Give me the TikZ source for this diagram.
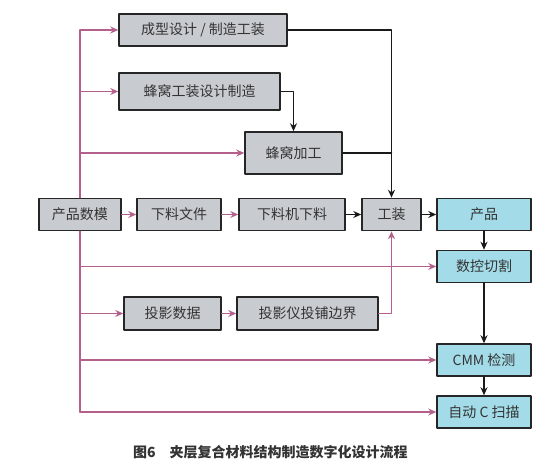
\documentclass[tikz,border=0pt]{standalone}
\usepackage{fontspec}
\newfontfamily\cjk{Noto Sans CJK SC}
\usetikzlibrary{arrows.meta}
\definecolor{boxgray}{RGB}{200,204,208}
\definecolor{boxcyan}{RGB}{163,220,232}
\definecolor{flowpink}{RGB}{180,96,140}
\tikzset{
  gbox/.style={draw=black!85, line width=1.5pt, fill=boxgray, minimum height=32pt,
    inner sep=0pt, font=\cjk\fontsize{14}{16}\selectfont, text=black!80},
  cbox/.style={gbox, fill=boxcyan, minimum width=94pt},
  blk/.style={black!90, line width=1.5pt},
  pnk/.style={flowpink, line width=1.5pt},
  tip/.style={-{Stealth[length=8pt,width=7pt]}}
}
\begin{document}
\begin{tikzpicture}[x=1pt, y=-1pt, line cap=round, line join=round]
    \useasboundingbox[fill=white] (0,0) rectangle (550,473);

    % Kaesten oben (Werkzeugbau)
    \node[gbox, minimum width=168pt] (mold) at (203,30) {成型设计 / 制造工装};
    \node[gbox, minimum width=161pt, minimum height=37pt] (hcdesign) at (199.5,91.5) {蜂窝工装设计制造};
    \node[gbox, minimum width=97pt, minimum height=42pt] (hcmach) at (293.5,153) {蜂窝加工};

    % Hauptzeile
    \node[gbox, minimum width=82pt] (model) at (80,214.5) {产品数模};
    \node[gbox, minimum width=84pt] (cutfile) at (179,214.5) {下料文件};
    \node[gbox, minimum width=106pt] (cutter) at (292,214.5) {下料机下料};
    \node[gbox, minimum width=59pt] (tool) at (391.5,214.5) {工装};
    \node[cbox] (prod) at (484,214.5) {产品};

    % rechte Spalte und Projektion
    \node[cbox] (nccut) at (484,266.5) {数控切割};
    \node[gbox, minimum width=97pt, minimum height=33pt] (projdata) at (172.5,313.5) {投影数据};
    \node[gbox, minimum width=141pt, minimum height=33pt] (projlay) at (307.5,313.5) {投影仪投铺边界};
    \node[cbox] (cmm) at (484,360) {CMM 检测};
    \node[cbox] (cscan) at (484,412) {自动 C 扫描};

    % Datenstamm (rosa)
    \draw[pnk] (model.north) -- (model.north |- mold);
    \draw[pnk] (model.south) -- (model.south |- cscan);
    \draw[pnk, tip] (model.north |- mold) -- (mold.west);
    \draw[pnk, tip] (model.north |- hcdesign) -- (hcdesign.west);
    \draw[pnk, tip] (model.north |- hcmach) -- (hcmach.west);
    \draw[pnk, tip] (model.south |- nccut) -- (nccut.west);
    \draw[pnk, tip] (model.south |- projdata) -- (projdata.west);
    \draw[pnk, tip] (model.south |- cmm) -- (cmm.west);
    \draw[pnk, tip] (model.south |- cscan) -- (cscan.west);
    \draw[pnk, tip] (model) -- (cutfile);
    \draw[pnk, tip] (cutfile) -- (cutter);
    \draw[pnk, tip] (projdata) -- (projlay);
    \draw[pnk, tip] (projlay.east) -| (tool.south);

    % Fertigungsfluss (schwarz)
    \draw[blk, tip] (mold.east) -| (tool.north);
    \draw[blk] (hcmach.east) -- (hcmach.east -| tool.north);
    \draw[blk, tip] (hcdesign.east) -| (hcmach.north);
    \draw[blk, tip] (cutter) -- (tool);
    \draw[blk, tip] (tool) -- (prod);
    \draw[blk, tip] (prod) -- (nccut);
    \draw[blk, tip] (nccut) -- (cmm);
    \draw[blk, tip] (cmm) -- (cscan);

    % Bildunterschrift
    \node[anchor=west, inner sep=0pt, font=\cjk\bfseries\fontsize{14}{16}\selectfont, text=black!80] (caption) at (133,452) {图6\quad 夹层复合材料结构制造数字化设计流程};
\end{tikzpicture}
\end{document}
